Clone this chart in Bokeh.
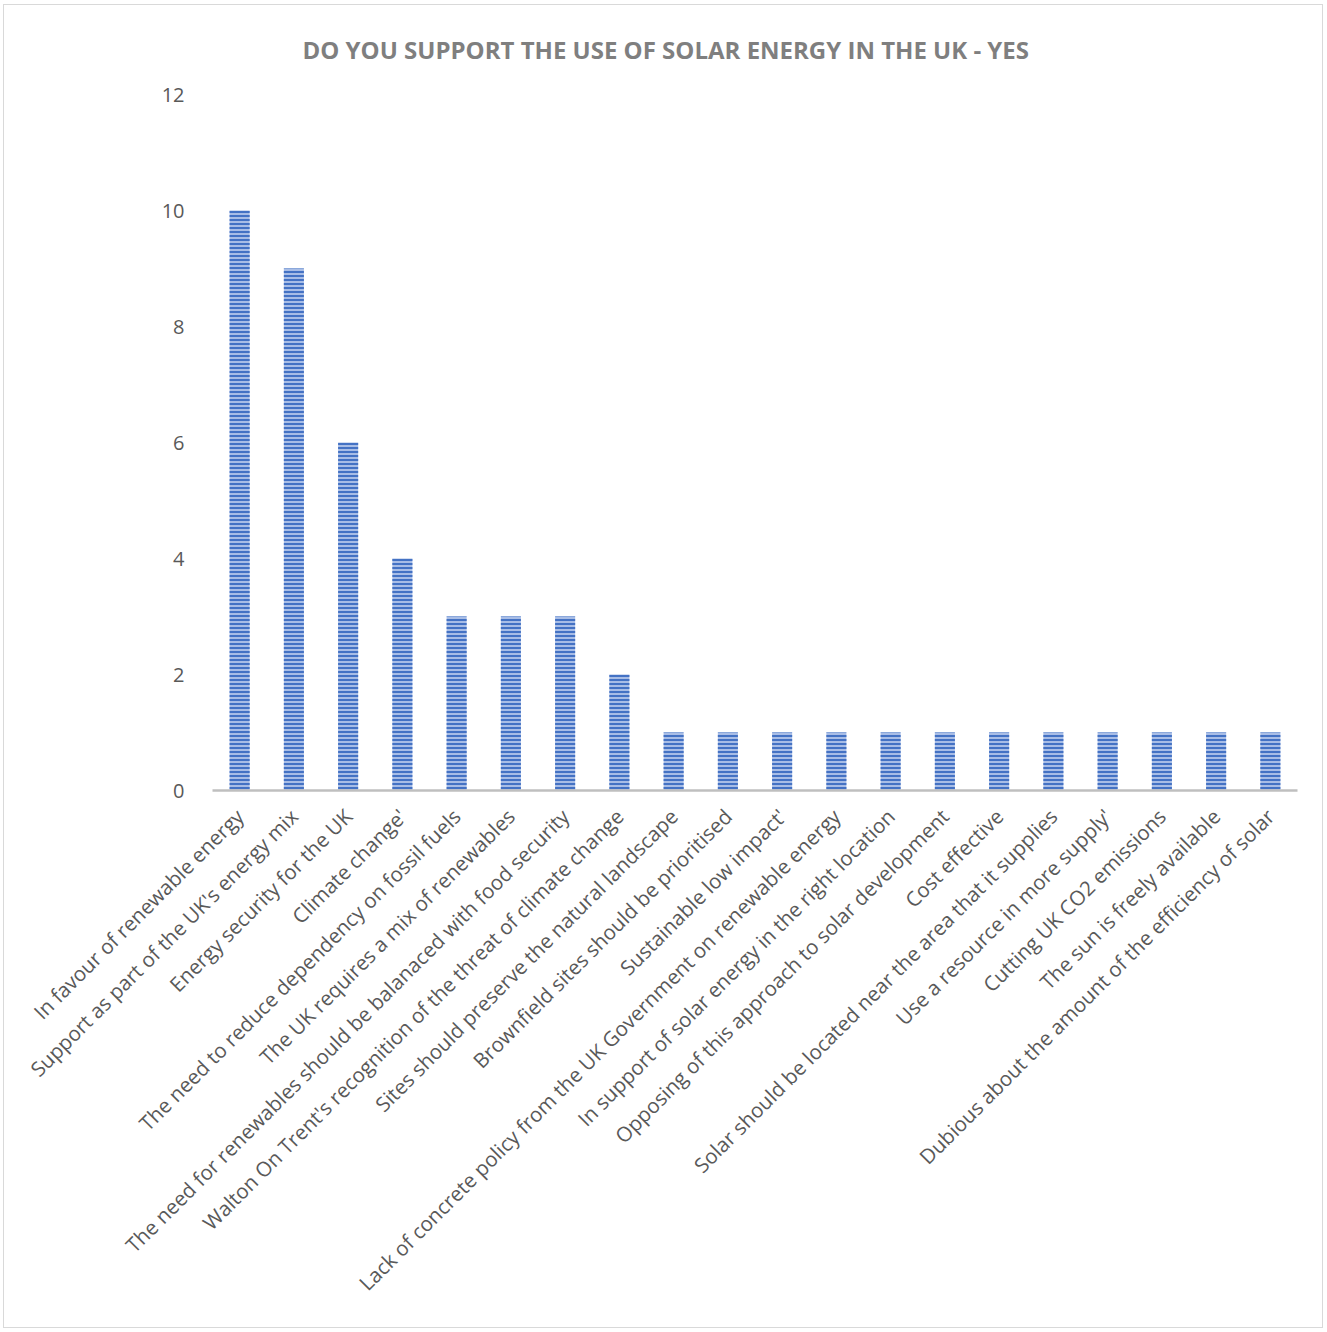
from bokeh.plotting import figure
from bokeh.models import Range1d, FixedTicker
from bokeh.embed import file_html
from bokeh.resources import INLINE
import math

categories = [
    "In favour of renewable energy",
    "Support as part of the UK's energy mix",
    "Energy security for the UK",
    "Climate change'",
    "The need to reduce dependency on fossil fuels",
    "The UK requires a mix of renewables",
    "The need for renewables should be balanaced with food security",
    "Walton On Trent's recognition of the threat of climate change",
    "Sites should preserve the natural landscape",
    "Brownfield sites should be prioritised",
    "Sustainable low impact'",
    "Lack of concrete policy from the UK Government on renewable energy",
    "In support of solar energy in the right location",
    "Opposing of this approach to solar development",
    "Cost effective",
    "Solar should be located near the area that it supplies",
    "Use a resource in more supply'",
    "Cutting UK CO2 emissions",
    "The sun is freely available",
    "Dubious about the amount of the efficiency of solar",
]
counts = [10, 9, 6, 4, 3, 3, 3, 2, 1, 1, 1, 1, 1, 1, 1, 1, 1, 1, 1, 1]
y_ticks = [0, 2, 4, 6, 8, 10, 12]
title_text = "DO YOU SUPPORT THE USE OF SOLAR ENERGY IN THE UK - YES"

W, H = 1320, 1324
BL, BR, BT = 208, 27, 89
BB = H - BT - 696
p = figure(x_range=categories, y_range=Range1d(0, 12), width=W, height=H,
           output_backend="svg", toolbar_location=None,
           min_border_left=BL, min_border_right=BR, min_border_top=BT,
           min_border_bottom=BB)
p.styles = {"border": "1.5px solid #d9d9d9", "margin": "4px 0 0 3px"}
p.x_range.range_padding = 0
p.outline_line_color = None
p.background_fill_color = "white"
p.border_fill_color = "white"

p.vbar(x=categories, top=counts, width=0.37,
       fill_color="#a8bde6", line_color=None,
       hatch_pattern="horizontal_line", hatch_color="#4472C4",
       hatch_scale=4, hatch_weight=2)

p.xgrid.grid_line_color = None
p.ygrid.grid_line_color = None

p.yaxis.ticker = FixedTicker(ticks=y_ticks)
p.yaxis.axis_line_color = None
p.yaxis.major_tick_line_color = None
p.yaxis.minor_tick_line_color = None
p.yaxis.major_label_standoff = 22
p.yaxis.major_label_text_font = "Open Sans"
p.yaxis.major_label_text_font_size = "20px"
p.yaxis.major_label_text_color = "#595959"

p.xaxis.axis_line_color = "#bfbfbf"
p.xaxis.axis_line_width = 2.5
p.xaxis.major_tick_line_color = None
p.xaxis.minor_tick_line_color = None
p.xaxis.major_label_orientation = math.pi / 4
p.xaxis.major_label_standoff = 16
p.xaxis.major_label_text_font = "Open Sans"
p.xaxis.major_label_text_font_size = "20.5px"
p.xaxis.major_label_text_color = "#595959"

p.title.text = title_text
p.title.align = "left"
p.title.vertical_align = "top"
p.title.offset = 90
p.title.standoff = 54
p.title.text_line_height = 0.9
p.title.text_font = "Open Sans"
p.title.text_font_style = "bold"
p.title.text_font_size = "24px"
p.title.text_color = "#7f7f7f"

open("out.html", "w").write(file_html(p, INLINE))
